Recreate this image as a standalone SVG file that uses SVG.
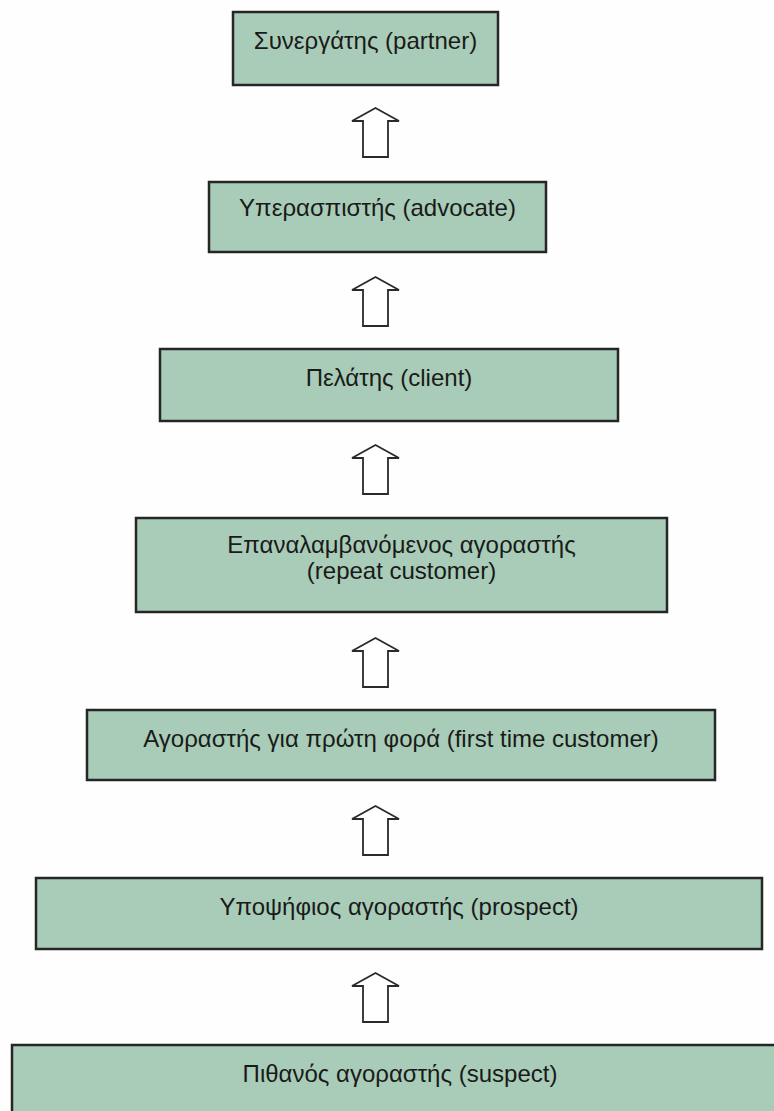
<svg xmlns="http://www.w3.org/2000/svg" width="774" height="1111" viewBox="0 0 774 1111">
<defs>
<style>
.box{fill:#a8ccb7;stroke:#262626;stroke-width:2.5}
.lbl{font-family:"Liberation Sans",Arial,sans-serif;font-size:24px;fill:#1a1a1a;text-anchor:middle}
.arr{fill:#ffffff;stroke:#2a2a2a;stroke-width:1.8;stroke-linejoin:miter}
</style>
<polygon id="up" class="arr" points="0,0 23.5,13 12.5,13 12.5,49 -12.5,49 -12.5,13 -23.5,13"/>
</defs>
<rect width="774" height="1111" fill="#fefefe"/>
<g id="connectors">
<use href="#up" x="375.5" y="108"/>
<use href="#up" x="375.5" y="277"/>
<use href="#up" x="375.5" y="445"/>
<use href="#up" x="375.5" y="638"/>
<use href="#up" x="375.5" y="806"/>
<use href="#up" x="375.5" y="973"/>
</g>
<g id="partner">
<rect class="box" x="233" y="12" width="265" height="73"/>
<text class="lbl" x="365.5" y="49">Συνεργάτης (partner)</text>
</g>
<g id="advocate">
<rect class="box" x="209" y="182" width="337" height="70"/>
<text class="lbl" x="377.5" y="216">Υπερασπιστής (advocate)</text>
</g>
<g id="client">
<rect class="box" x="160" y="349" width="458" height="72"/>
<text class="lbl" x="389" y="386">Πελάτης (client)</text>
</g>
<g id="repeat">
<rect class="box" x="136" y="518" width="531" height="94"/>
<text class="lbl" x="401.5" y="553">Επαναλαμβανόμενος αγοραστής</text>
<text class="lbl" x="401.5" y="579">(repeat customer)</text>
</g>
<g id="first">
<rect class="box" x="87" y="710" width="628" height="70"/>
<text class="lbl" x="401" y="747">Αγοραστής για πρώτη φορά (first time customer)</text>
</g>
<g id="prospect">
<rect class="box" x="36" y="878" width="726" height="71"/>
<text class="lbl" x="399" y="915">Υποψήφιος αγοραστής (prospect)</text>
</g>
<g id="suspect">
<rect class="box" x="12" y="1045" width="790" height="90"/>
<text class="lbl" x="400" y="1082">Πιθανός αγοραστής (suspect)</text>
</g>
</svg>
